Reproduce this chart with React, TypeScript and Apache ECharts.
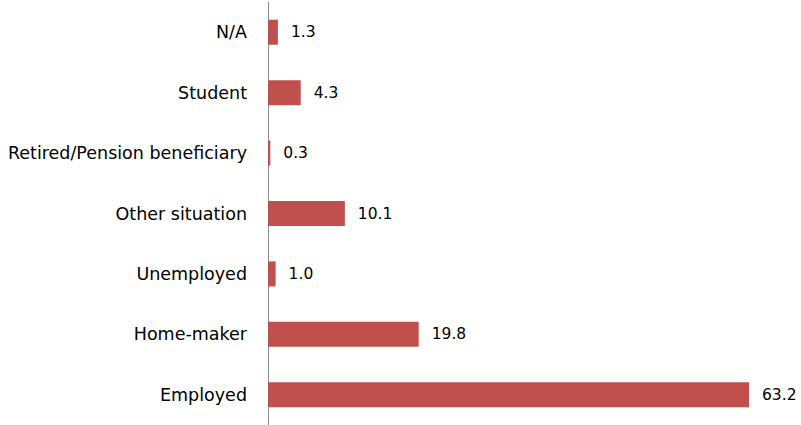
import React, { useEffect, useRef } from "react";
import * as echarts from "echarts";

const categories = [
  "Employed",
  "Home-maker",
  "Unemployed",
  "Other situation",
  "Retired/Pension beneficiary",
  "Student",
  "N/A",
];
const values = [63.2, 19.8, 1.0, 10.1, 0.3, 4.3, 1.3];
const axisMax = 65;

export default function App() {
  const ref = useRef<HTMLDivElement>(null);
  useEffect(() => {
    if (!ref.current) return;
    const chart = echarts.init(ref.current, null, { renderer: "svg" });
    chart.setOption({
      animation: false,
      grid: { left: 268, top: 2, width: (481 * axisMax) / 63.2, height: 425 },
      xAxis: {
        type: "value",
        min: 0,
        max: axisMax,
        show: false,
      },
      yAxis: {
        type: "category",
        data: categories,
        axisLine: { show: true, lineStyle: { color: "#8c8c8c", width: 1 } },
        axisTick: { show: false },
        axisLabel: {
          margin: 21,
          color: "#000",
          fontFamily: "DejaVu Sans",
          fontSize: 17.5,
        },
      },
      series: [
        {
          type: "bar",
          data: values,
          barWidth: 25,
          itemStyle: { color: "#C0504D" },
          label: {
            show: true,
            position: "right",
            distance: 13,
            color: "#000",
            fontFamily: "DejaVu Sans",
            fontSize: 15.5,
            formatter: (p: any) => Number(p.value).toFixed(1),
          },
        },
      ],
    });
    return () => chart.dispose();
  }, []);
  return (
    <div
      ref={ref}
      style={{ width: 801, height: 425, position: "absolute", left: 0, top: 0 }}
    />
  );
}
